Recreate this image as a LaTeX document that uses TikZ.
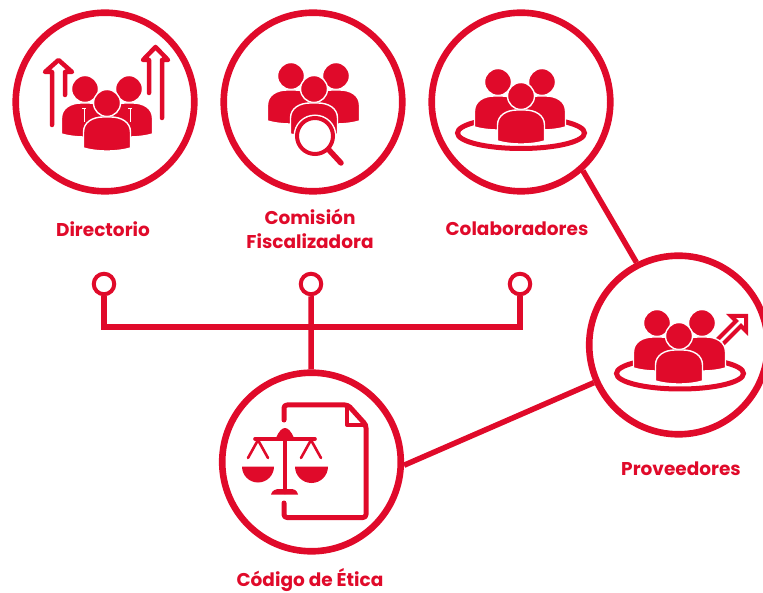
\documentclass[tikz,border=0pt]{standalone}
\usepackage{fontspec}
\setmainfont{Poppins}
\usepackage{xcolor}
\definecolor{marca}{HTML}{E00A2A}
\tikzset{
    bigcircle/.style={circle,draw=marca,line width=6.6pt,minimum size=178.6pt,inner sep=0pt},
    dotcircle/.style={circle,draw=marca,line width=4pt,fill=white,minimum size=20.5pt,inner sep=0pt},
    caption/.style={text=marca,align=center,font=\fontsize{18.5}{24}\selectfont\bfseries,inner sep=0pt},
    link/.style={draw=marca,line width=5.5pt},
    iconline/.style={draw=marca,line width=4.5pt,line join=round,line cap=round},
    thinline/.style={draw=marca,line width=2.6pt,line cap=round},
    person/.pic={
        \path[fill=marca,draw=white,line width=1.4pt] (0,0) circle (13.5);
        \path[fill=marca,draw=white,line width=1.4pt] (-23.5,45) -- (-23.5,29) .. controls (-23.5,19) and (-14,14) .. (-4,14) -- (4,14)
            .. controls (14,14) and (23.5,19) .. (23.5,29) -- (23.5,45) .. controls (10,49) and (-10,49) .. (-23.5,45) -- cycle;
    },
}
\begin{document}
\begin{tikzpicture}[x=1pt,y=-1pt,node distance=127pt]
    \useasboundingbox (0,0) rectangle (763,593);

    \node[bigcircle] (directorio) at (105,102) {};
    \node[bigcircle,right of=directorio,node distance=208pt] (comision) {};
    \node[bigcircle,right of=comision,node distance=208pt] (colaboradores) {};
    \node[bigcircle] (proveedores) at (678.5,345) {};
    \node[bigcircle] (etica) at (311.5,462) {};

    \node[caption,below of=directorio,xshift=-2pt] (capDirectorio) {Directorio};
    \node[caption,below of=comision,xshift=-3pt] (capComision) {Comisión\\Fiscalizadora};
    \node[caption,below of=colaboradores,xshift=-4pt] (capColaboradores) {Colaboradores};
    \node[caption,below of=proveedores,node distance=124pt,xshift=2.5pt] (capProveedores) {Proveedores};
    \node[caption,below of=etica,node distance=118.5pt,xshift=-1.5pt] (capEtica) {Código de Ética};

    \node[dotcircle,below of=directorio,node distance=182pt,xshift=-1pt] (dotDirectorio) {};
    \node[dotcircle,below of=comision,node distance=182pt,xshift=-2pt] (dotComision) {};
    \node[dotcircle,below of=colaboradores,node distance=182pt,xshift=-1pt] (dotColaboradores) {};
    \coordinate (bus) at (311,327);

    \draw[link] (dotDirectorio) |- (bus) -| (dotColaboradores);
    \draw[link] (dotComision) -- (etica);
    \draw[link] (colaboradores.-48) -- (proveedores.117);
    \draw[link] (etica.-2) -- (proveedores.204);

    % Directorio
    \draw[iconline] (52,125) -- (52,72) -- (45,72) -- (58.5,60) -- (72,72) -- (65,72) -- (65,95);
    \draw[iconline] (149,93) -- (149,60) -- (143,60) -- (155.5,47) -- (168,60) -- (162,60) -- (162,118);
    \pic at (85,89) {person};
    \pic at (129,89) {person};
    \pic at (107,103) {person};
    \draw[white,line width=1pt] (84,109) -- (84,122) (82,109) -- (86,109);
    \draw[white,line width=1pt] (130,109) -- (130,122) (128,109) -- (132,109);

    % Comision
    \pic at (291,76) {person};
    \pic at (336,76) {person};
    \pic at (314,89) {person};
    \draw[marca,line width=4pt,fill=white,preaction={draw=white,line width=7pt}] (315,136) circle (18);
    \draw[marca,line width=5.5pt,line cap=round] (329,150) -- (341,163);

    % Colaboradores
    \draw[marca,line width=5pt] (521,133) ellipse (63.5 and 15.5);
    \pic at (498,82) {person};
    \pic at (542,82) {person};
    \pic at (521,96) {person};

    % Proveedores
    \draw[marca,line width=5pt] (680,373.5) ellipse (63.5 and 15.5);
    \draw[marca,line width=4pt,fill=white] (712,345) -- (736,321) -- (731,316) -- (746,316) -- (746,331) -- (741,326) -- (717,350);
    \pic at (657,323) {person};
    \pic at (702,323) {person};
    \pic at (679,336) {person};

    % Codigo de Etica
    \draw[iconline,line width=5pt,rounded corners=3pt] (284,420) -- (284,405) -- (348,405) -- (366,425) -- (366,517.5) -- (284,517.5) -- (284,503);
    \draw[iconline,line width=4pt] (347,407) -- (347,425) -- (366,425);
    \draw[iconline,line width=3.6pt] (255,439) -- (315,439);
    \draw[iconline] (285,437) -- (285,492);
    \fill[marca] (276,438) .. controls (279,431) and (282,428) .. (285,428) .. controls (288,428) and (291,431) .. (294,438) -- cycle;
    \fill[marca] (271,494.5) .. controls (272,490) and (276,489) .. (280,489) -- (290,489) .. controls (294,489) and (297,490) .. (298,494.5) -- cycle;
    \draw[thinline,line join=round] (248,458) -- (258,440) -- (268,458);
    \draw[thinline,line join=round] (301,458) -- (311,440) -- (321,458);
    \fill[marca] (242,466.5) -- (274,466.5) arc[start angle=0,end angle=180,radius=16] -- cycle;
    \fill[marca] (295,466.5) -- (328,466.5) arc[start angle=0,end angle=180,radius=16.5] -- cycle;
\end{tikzpicture}
\end{document}
